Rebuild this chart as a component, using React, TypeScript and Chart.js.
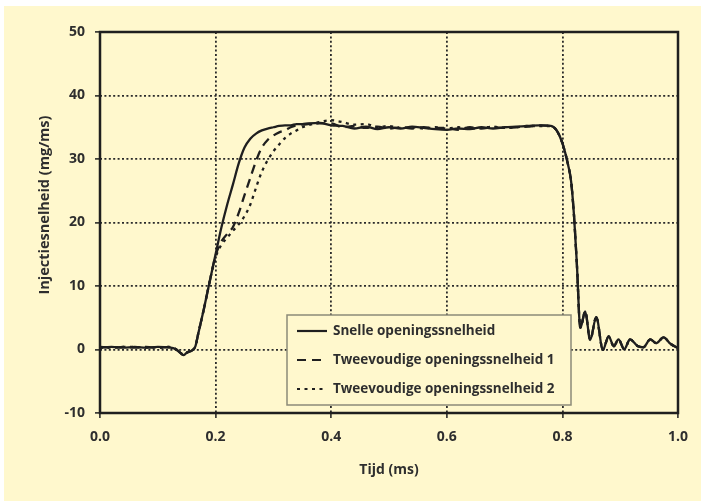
import { useEffect, useRef } from "react";
import { Chart, registerables } from "chart.js";

Chart.register(...registerables);

// Time axis (ms)
const tijd = [
  0, 0.02, 0.04, 0.06, 0.08, 0.10, 0.12, 0.13, 0.14, 0.145, 0.15, 0.16, 0.165, 0.17, 0.18, 0.19,
  0.20, 0.21, 0.22, 0.23, 0.24, 0.25, 0.26, 0.27, 0.28, 0.29, 0.30, 0.31, 0.32, 0.33, 0.34, 0.35, 0.36,
  0.38, 0.40, 0.42, 0.44, 0.46, 0.48, 0.50, 0.52, 0.54, 0.56, 0.58, 0.60, 0.62, 0.64, 0.66, 0.68, 0.70,
  0.72, 0.74, 0.76, 0.78, 0.79, 0.80, 0.81, 0.815, 0.82, 0.825, 0.831, 0.8395, 0.848, 0.8586, 0.870,
  0.880, 0.889, 0.897, 0.907, 0.917, 0.930, 0.940, 0.952, 0.9625, 0.975, 0.987, 1.0,
];

// Injectiesnelheid (mg/ms)
const snelle = [
  0.3, 0.4, 0.3, 0.4, 0.3, 0.4, 0.3, 0.1, -0.6, -0.9, -0.5, -0.1, 0.5, 2.5, 6.5, 10.8,
  15.0, 19.2, 22.8, 26.0, 29.3, 31.8, 33.2, 34.0, 34.5, 34.8, 35.0, 35.2, 35.3, 35.3, 35.5, 35.5, 35.6,
  35.7, 35.3, 35.2, 34.8, 35.1, 34.7, 35.0, 34.8, 35.1, 34.9, 34.7, 34.6, 34.8, 34.7, 35.0, 34.8, 35.0,
  35.1, 35.2, 35.3, 35.2, 34.5, 32.5, 29.0, 26.5, 21.2, 13.5, 3.4, 6.0, 1.5, 5.1, -0.05,
  2.05, 0.5, 1.6, 0.05, 1.6, 0.55, 0.35, 1.6, 1.0, 1.9, 0.9, 0.2,
];

const tweevoudig1 = [
  0.4, 0.3, 0.4, 0.3, 0.4, 0.3, 0.4, 0.1, -0.6, -0.9, -0.5, -0.1, 0.5, 2.5, 6.5, 10.8,
  14.8, 17.0, 18.2, 19.3, 21.5, 24.3, 27.0, 29.7, 31.8, 33.0, 33.7, 34.2, 34.5, 35.0, 35.3, 35.4, 35.5,
  35.6, 35.6, 35.0, 35.2, 34.9, 35.1, 34.8, 35.0, 34.8, 35.0, 34.9, 34.9, 34.6, 35.0, 34.8, 35.0, 34.9,
  35.0, 35.1, 35.3, 35.2, 34.5, 32.5, 29.0, 26.5, 21.2, 13.5, 3.4, 6.0, 1.5, 5.1, -0.05,
  2.05, 0.5, 1.6, 0.05, 1.6, 0.55, 0.35, 1.6, 1.0, 1.9, 0.9, 0.2,
];

const tweevoudig2 = [
  0.3, 0.3, 0.4, 0.4, 0.3, 0.3, 0.4, 0.1, -0.6, -0.9, -0.5, -0.1, 0.5, 2.5, 6.5, 10.8,
  14.5, 16.5, 17.6, 18.7, 19.7, 21.0, 22.8, 25.5, 28.0, 29.8, 31.2, 32.3, 33.3, 34.0, 34.5, 35.0, 35.3,
  35.8, 36.1, 35.8, 35.4, 35.5, 35.0, 35.2, 34.9, 35.0, 34.8, 35.0, 34.8, 35.0, 34.8, 34.9, 35.1, 34.9,
  35.0, 35.2, 35.2, 35.2, 34.5, 32.5, 29.0, 26.5, 21.2, 13.5, 3.4, 6.0, 1.5, 5.1, -0.05,
  2.05, 0.5, 1.6, 0.05, 1.6, 0.55, 0.35, 1.6, 1.0, 1.9, 0.9, 0.2,
];

const seriesLabels = [
  "Snelle openingssnelheid",
  "Tweevoudige openingssnelheid 1",
  "Tweevoudige openingssnelheid 2",
];
const xTicks = [0, 0.2, 0.4, 0.6, 0.8, 1.0];
const yTicks = [-10, 0, 10, 20, 30, 40, 50];
const xTitle = "Tijd (ms)";
const yTitle = "Injectiesnelheid (mg/ms)";

const BG = "#fff8cd";
const INK = "#1f1f1f";
const TEXT = "#2e2e2e";
const FONT = '"Open Sans", "DejaVu Sans", sans-serif';

const bgPlugin = {
  id: "bg",
  beforeDraw(chart: any) {
    const ctx = chart.ctx;
    ctx.save();
    ctx.fillStyle = BG;
    ctx.fillRect(0, 0, chart.width, chart.height);
    ctx.restore();
  },
};

const framePlugin = {
  id: "frameAndLegend",
  afterDraw(chart: any) {
    const ctx = chart.ctx;
    const a = chart.chartArea;
    ctx.save();
    ctx.setLineDash([]);
    ctx.strokeStyle = INK;
    ctx.lineWidth = 2.5;
    ctx.strokeRect(a.left, a.top, a.right - a.left, a.bottom - a.top);

    // axis titles
    ctx.fillStyle = TEXT;
    ctx.font = `bold 14px ${FONT}`;
    ctx.textAlign = "center";
    ctx.textBaseline = "middle";
    ctx.fillText(xTitle, (a.left + a.right) / 2, a.bottom + 57);
    ctx.save();
    ctx.translate(41, a.top + 173);
    ctx.rotate(-Math.PI / 2);
    ctx.font = `bold 14.5px ${FONT}`;
    ctx.fillText(yTitle, 0, 0);
    ctx.restore();

    // legend box
    const bx = a.left + 187;
    const by = a.top + 283;
    const bw = 284;
    const bh = 90;
    ctx.fillStyle = BG;
    ctx.fillRect(bx, by, bw, bh);
    ctx.strokeStyle = "#8c8a78";
    ctx.lineWidth = 1.5;
    ctx.strokeRect(bx, by, bw, bh);

    ctx.font = `bold 13.5px ${FONT}`;
    ctx.textBaseline = "middle";
    ctx.textAlign = "left";
    chart.data.datasets.forEach((ds: any, i: number) => {
      const y = by + 16 + i * 29;
      ctx.strokeStyle = INK;
      ctx.lineWidth = 2.2;
      ctx.setLineDash(ds.borderDash || []);
      ctx.beginPath();
      ctx.moveTo(bx + 10, y);
      ctx.lineTo(bx + 40, y);
      ctx.stroke();
      ctx.setLineDash([]);
      ctx.fillStyle = TEXT;
      ctx.fillText(ds.label, bx + 46, y);
    });
    ctx.restore();
  },
};

export default function App() {
  const ref = useRef<HTMLCanvasElement | null>(null);

  useEffect(() => {
    if (!ref.current) return;
    const mk = (ys: number[]) => tijd.map((t, i) => ({ x: t, y: ys[i] }));
    const common = {
      borderColor: INK,
      borderWidth: 2.3,
      pointRadius: 0,
      fill: false,
      cubicInterpolationMode: "monotone" as const,
    };
    const gridOpts = {
      color: "#2a2a2a",
      lineWidth: 1.8,
      tickLength: 5,
      tickColor: INK,
      tickWidth: 1.5,
      tickBorderDash: [],
    };
    const tickFont = { family: FONT, size: 14, weight: "bold" };
    const chart = new Chart(ref.current, {
      type: "line",
      data: {
        datasets: [
          { ...common, label: seriesLabels[0], data: mk(snelle), borderDash: [] },
          { ...common, label: seriesLabels[1], data: mk(tweevoudig1), borderDash: [9, 6] },
          { ...common, label: seriesLabels[2], data: mk(tweevoudig2), borderDash: [3, 4.5] },
        ],
      },
      options: {
        animation: false,
        responsive: false,
        devicePixelRatio: 1,
        layout: { padding: { left: 0, right: 23, top: 26, bottom: 0 } },
        plugins: { legend: { display: false }, tooltip: { enabled: false } },
        scales: {
          x: {
            type: "linear",
            min: 0,
            max: 1,
            afterBuildTicks: (s: any) => {
              s.ticks = xTicks.map((v) => ({ value: v }));
            },
            afterFit: (s: any) => {
              s.height = 88;
            },
            ticks: {
              callback: (v: any) => Number(v).toFixed(1),
              font: tickFont,
              color: TEXT,
              padding: 11,
              maxRotation: 0,
            },
            grid: gridOpts,
            border: { display: false, dash: [2, 2.4] },
            title: { display: false },
          },
          y: {
            type: "linear",
            min: -10,
            max: 50,
            afterBuildTicks: (s: any) => {
              s.ticks = yTicks.map((v) => ({ value: v }));
            },
            afterFit: (s: any) => {
              s.width = 96;
            },
            ticks: {
              font: tickFont,
              color: TEXT,
              padding: 10,
            },
            grid: gridOpts,
            border: { display: false, dash: [2, 2.4] },
            title: { display: false },
          },
        },
      },
      plugins: [bgPlugin, framePlugin],
    } as any);
    return () => chart.destroy();
  }, []);

  return (
    <div style={{ position: "fixed", left: 0, top: 0, width: 701, height: 501, background: "#ffffff", overflow: "hidden" }}>
      <canvas
        ref={ref}
        width={697}
        height={495}
        style={{ position: "absolute", left: 4, top: 6, width: 697, height: 495 }}
      />
    </div>
  );
}
